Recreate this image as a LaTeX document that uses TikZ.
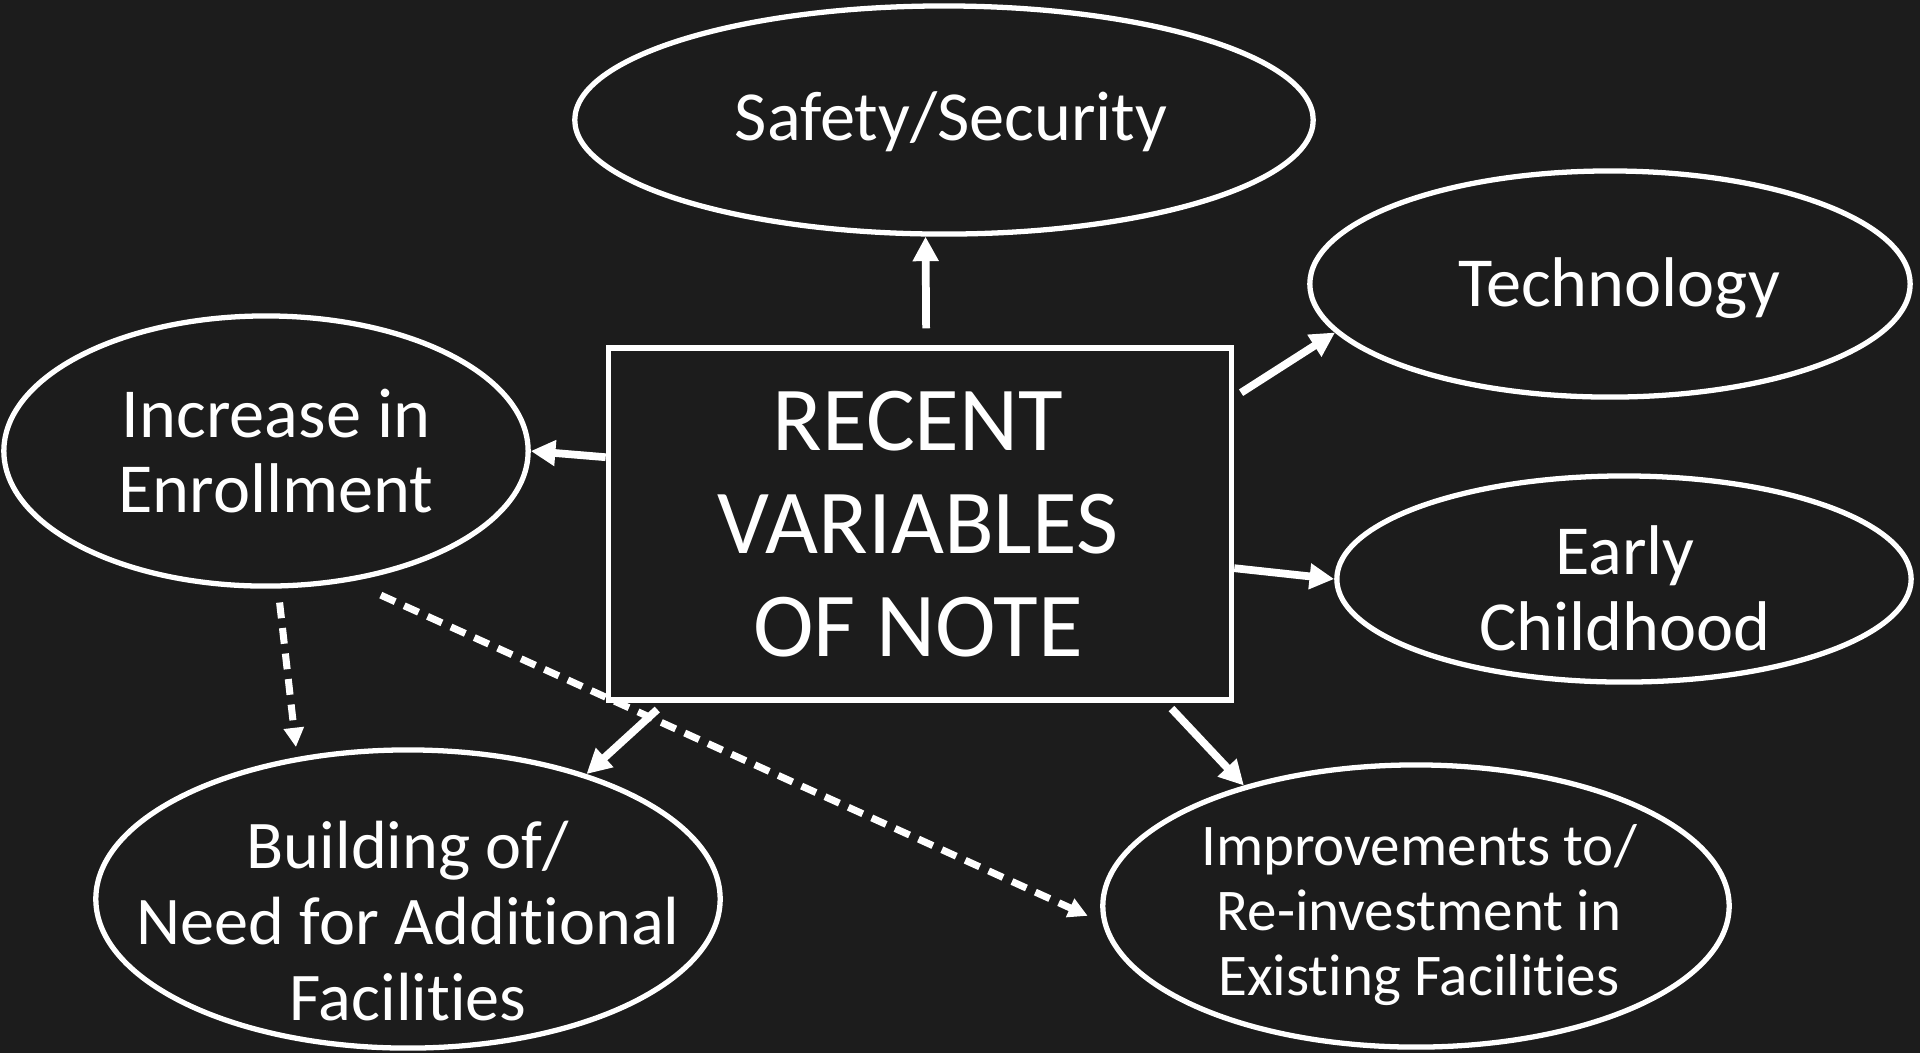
\documentclass[tikz,border=0pt]{standalone}
\usepackage{fontspec}
\setmainfont[Ligatures=NoCommon]{Carlito}
\usetikzlibrary{shapes.geometric,arrows.meta}
\definecolor{board}{RGB}{28,28,28}
\tikzset{
  oval/.style={draw=white, line width=1.5pt, ellipse, inner sep=0pt},
  lbl/.style={text=white, align=center, font=\fontsize{20}{21.5}\selectfont},
  arr/.style={draw=white, line width=2.2pt, -{Triangle[length=7pt,width=7pt]}},
  darr/.style={draw=white, line width=2pt, dash pattern=on 4.5pt off 2.8pt, -{Triangle[length=5.5pt,width=5.5pt]}}
}
\begin{document}
\begin{tikzpicture}[x=0.01cm,y=-0.01cm]
% Board
\fill[board] (0,0) rectangle (1920,1053);

% Centre box
\node[draw=white, line width=1.5pt, minimum width=6.23cm, minimum height=3.52cm, inner sep=0pt] (box) at (920,524) {};
\node[lbl, font=\fontsize{26}{29.3}\selectfont] (boxtxt) at (918,524) {RECENT\\VARIABLES\\OF NOTE};

% Ovals
\node[oval, minimum width=7.38cm, minimum height=2.28cm] (safety) at (944,120) {};
\node[lbl] (safetytxt) at (951,122) {Safety/Security};
\node[oval, minimum width=6.00cm, minimum height=2.26cm] (tech) at (1610,284) {};
\node[lbl] (techtxt) at (1619,288) {Technology};
\node[oval, minimum width=5.24cm, minimum height=2.70cm] (incr) at (266,451) {};
\node[lbl] (incrtxt) at (276,451) {Increase in\\Enrollment};
\node[oval, minimum width=5.74cm, minimum height=2.06cm] (early) at (1624,579) {};
\node[lbl] (earlytxt) at (1625,588) {Early\\Childhood};
\node[oval, minimum width=6.24cm, minimum height=2.98cm] (build) at (408,899) {};
\node[lbl, font=\fontsize{19.4}{21.5}\selectfont] (buildtxt) at (408,921) {Building of/\\Need for Additional\\Facilities};
\node[oval, minimum width=6.26cm, minimum height=2.82cm] (impr) at (1416,906) {};
\node[lbl, font=\fontsize{16.8}{18.6}\selectfont] (imprtxt) at (1419,915) {Improvements to/\\Re-investment in\\Existing Facilities};

% Arrows
\draw[arr, shorten <=0.17cm] (box.88) -- (safety.261.5);
\draw[arr] (box.168.5) -- (incr.east);
\draw[arr, shorten <=0.08cm] (box.22.4) -- (tech.190.3);
\draw[arr] (box.-8.5) -- (early.west);
\draw[arr, shorten <=0.1cm] (box.215) -- (build.35);
\draw[arr, shorten <=0.08cm] (box.-36) -- (impr.145.7);
\draw[darr, shorten <=0.14cm, shorten >=0.1cm] (incr.275) -- (build.128.4);
\draw[darr, shorten <=0.33cm, shorten >=0.16cm] (incr.303.3) -- (impr.183.9);
\end{tikzpicture}
\end{document}
